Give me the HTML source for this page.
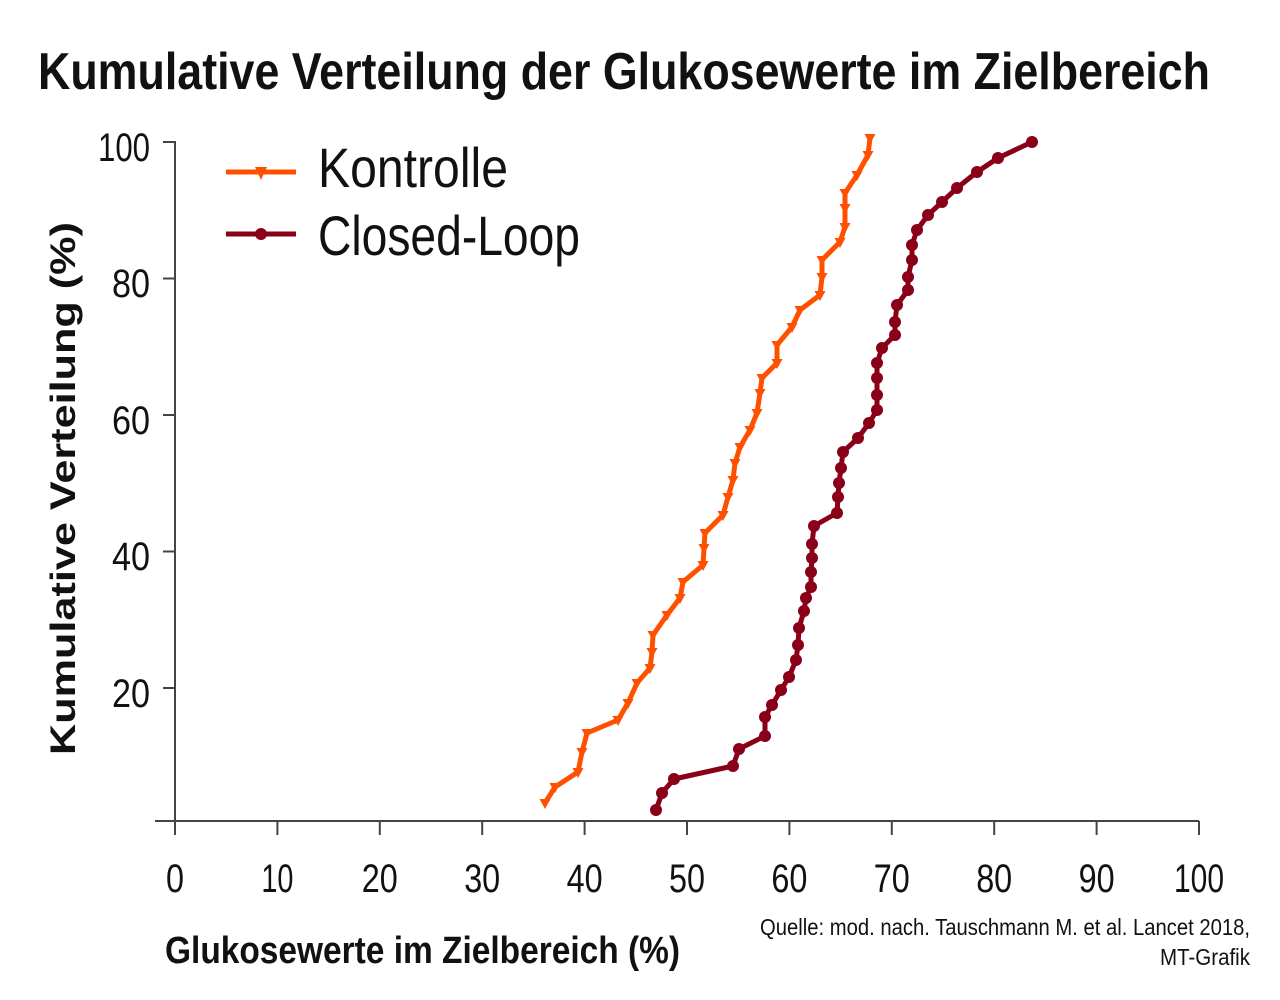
<!DOCTYPE html>
<html><head><meta charset="utf-8"><style>
html,body{margin:0;padding:0;background:#fff;}
svg{display:block;}
text{font-family:"Liberation Sans Narrow","Liberation Sans",sans-serif;fill:#111;}
</style></head><body>
<svg width="1280" height="1000" viewBox="0 0 1280 1000" xmlns="http://www.w3.org/2000/svg">
<defs>
<marker id="tri" markerUnits="userSpaceOnUse" markerWidth="14" markerHeight="14" refX="7" refY="7" orient="0">
<path d="M1.5,3 L12.5,3 L7,13 Z" fill="#ff5000"/></marker>
<marker id="dot" markerUnits="userSpaceOnUse" markerWidth="14" markerHeight="14" refX="7" refY="7" orient="0">
<circle cx="7" cy="7" r="6" fill="#8a0018"/></marker>
</defs>
<text x="38" y="89" font-size="52" font-weight="bold" textLength="1172" lengthAdjust="spacingAndGlyphs">Kumulative Verteilung der Glukosewerte im Zielbereich</text>

<g stroke="#444" stroke-width="2" fill="none">
<path d="M163,142 H175 V821"/>
<path d="M163,278.5 H175 M163,415 H175 M163,551.5 H175 M163,688 H175"/>
<path d="M155,821 H1199"/>
<path d="M175,821v14 M277.4,821v14 M379.8,821v14 M482.2,821v14 M584.6,821v14 M687,821v14 M789.4,821v14 M891.8,821v14 M994.2,821v14 M1096.6,821v14 M1199,821v14"/>
</g>
<g font-size="40" text-anchor="end">
<text x="150" y="161" textLength="52" lengthAdjust="spacingAndGlyphs">100</text>
<text x="150" y="297" textLength="38" lengthAdjust="spacingAndGlyphs">80</text>
<text x="150" y="434" textLength="38" lengthAdjust="spacingAndGlyphs">60</text>
<text x="150" y="570" textLength="38" lengthAdjust="spacingAndGlyphs">40</text>
<text x="150" y="707" textLength="38" lengthAdjust="spacingAndGlyphs">20</text>
</g>
<g font-size="40" text-anchor="middle">
<text x="175" y="892" textLength="18" lengthAdjust="spacingAndGlyphs">0</text><text x="277.4" y="892" textLength="32" lengthAdjust="spacingAndGlyphs">10</text><text x="379.8" y="892" textLength="36" lengthAdjust="spacingAndGlyphs">20</text><text x="482.2" y="892" textLength="36" lengthAdjust="spacingAndGlyphs">30</text><text x="584.6" y="892" textLength="36" lengthAdjust="spacingAndGlyphs">40</text><text x="687" y="892" textLength="36" lengthAdjust="spacingAndGlyphs">50</text><text x="789.4" y="892" textLength="36" lengthAdjust="spacingAndGlyphs">60</text><text x="891.8" y="892" textLength="36" lengthAdjust="spacingAndGlyphs">70</text><text x="994.2" y="892" textLength="36" lengthAdjust="spacingAndGlyphs">80</text><text x="1096.6" y="892" textLength="36" lengthAdjust="spacingAndGlyphs">90</text><text x="1199" y="892" textLength="50" lengthAdjust="spacingAndGlyphs">100</text>
</g>
<text transform="translate(75,755) rotate(-90)" font-size="35" font-weight="bold" textLength="533" lengthAdjust="spacingAndGlyphs">Kumulative Verteilung (%)</text>
<text x="165" y="963" font-size="38" font-weight="bold" textLength="515" lengthAdjust="spacingAndGlyphs">Glukosewerte im Zielbereich (%)</text>
<text x="1250" y="935" font-size="23" text-anchor="end" textLength="490" lengthAdjust="spacingAndGlyphs">Quelle: mod. nach. Tauschmann M. et al. Lancet 2018,</text>
<text x="1250" y="965" font-size="23" text-anchor="end" textLength="90" lengthAdjust="spacingAndGlyphs">MT-Grafik</text>

<line x1="226" y1="172" x2="296" y2="172" stroke="#ff5000" stroke-width="5"/>
<path d="M255,167 L267,167 L261,180 Z" fill="#ff5000"/>
<text x="318" y="187" font-size="56" textLength="190" lengthAdjust="spacingAndGlyphs">Kontrolle</text>
<line x1="226" y1="234" x2="296" y2="234" stroke="#8a0018" stroke-width="5"/>
<circle cx="261" cy="234" r="6" fill="#8a0018"/>
<text x="318" y="255" font-size="56" textLength="262" lengthAdjust="spacingAndGlyphs">Closed-Loop</text>

<polyline fill="none" stroke="#ff5000" stroke-width="5" stroke-linejoin="round" marker-start="url(#tri)" marker-mid="url(#tri)" marker-end="url(#tri)"
points="545,803 555,787 578,772 582,752 587,733 618,720 628,703 637,683 650,668 652,652 653,635 667,615 680,598 683,582 703,565 704,548 705,533 723,515 728,497 733,480 735,463 740,447 750,430 757,413 760,393 762,378 777,363 777,345 792,327 800,310 820,295 822,277 822,260 840,242 845,227 845,208 845,193 857,175 868,155 870,138"/>
<polyline fill="none" stroke="#8a0018" stroke-width="5" stroke-linejoin="round" marker-start="url(#dot)" marker-mid="url(#dot)" marker-end="url(#dot)"
points="656,810 662,793 674,779 733,766 739,749 765,736 765,717 772,705 781,690 789,677 796,660 798,645 799,628 804,611 806,598 811,587 811,572 812,558 812,544 814,526 837,513 838,497 839,483 841,468 843,452 858,438 869,423 877,410 877,395 877,378 877,363 882,348 895,335 895,322 897,305 908,290 908,277 912,260 912,245 917,230 928,215 942,202 957,188 977,172 998,158 1032,142"/>
</svg>
</body></html>
